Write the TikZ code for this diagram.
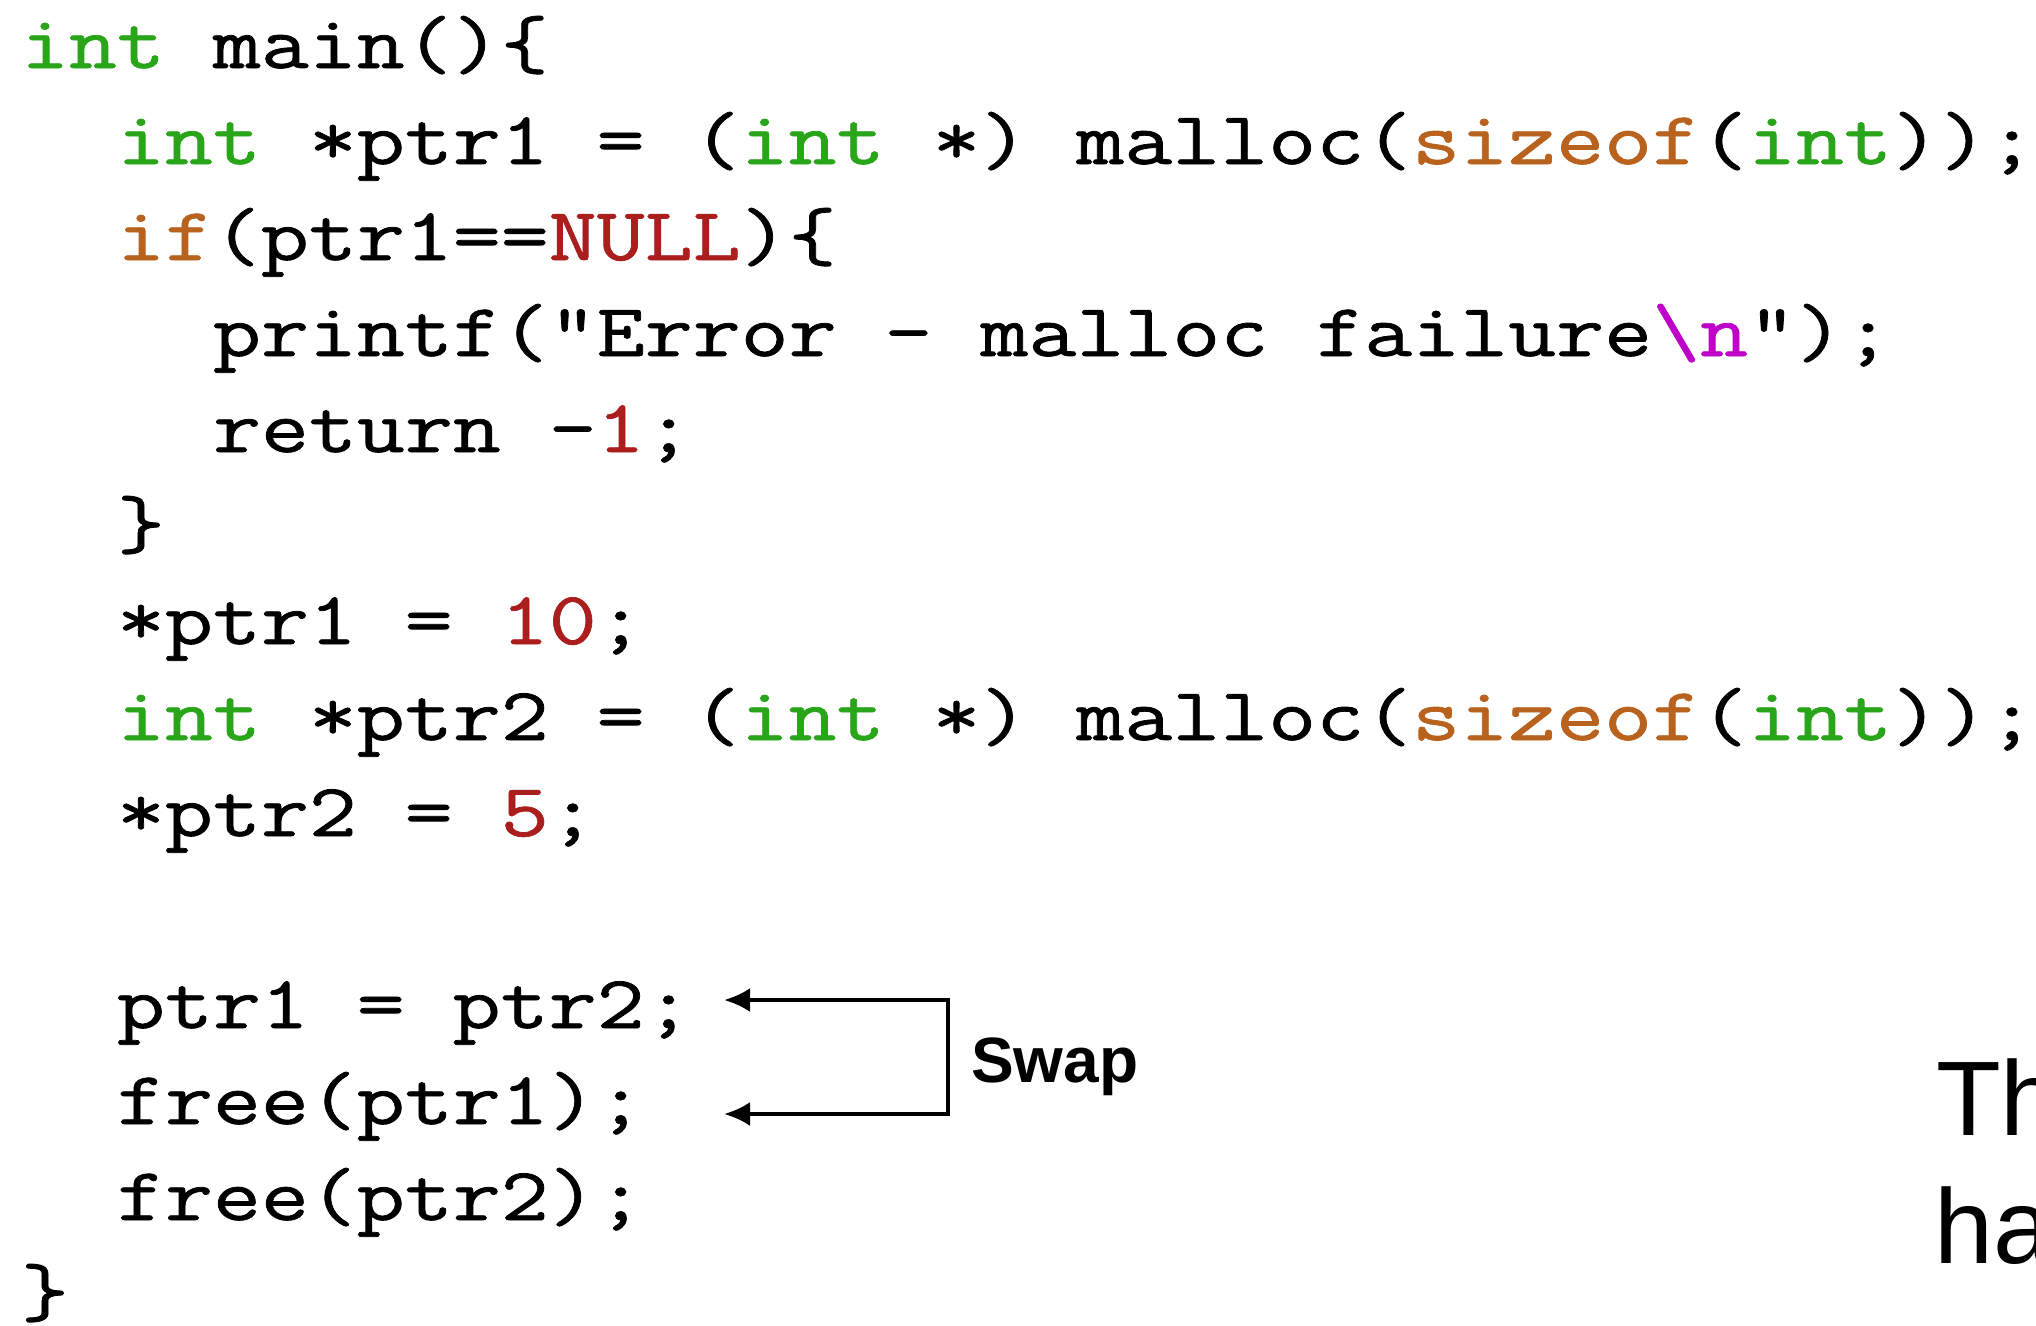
\documentclass[tikz,border=0pt]{standalone}
\usepackage{fontspec}
\setmainfont{Liberation Sans}
\setsansfont{Liberation Sans}
\setmonofont{Latin Modern Mono}[FakeStretch=1.242, FakeBold=1.0]
\usetikzlibrary{arrows.meta}
\definecolor{kwgreen}{RGB}{40,165,25}
\definecolor{kwbrown}{RGB}{185,98,30}
\definecolor{numred}{RGB}{170,30,30}
\definecolor{escmag}{RGB}{190,0,200}
\newcommand{\kgr}[1]{\textcolor{kwgreen}{#1}}
\newcommand{\kbr}[1]{\textcolor{kwbrown}{#1}}
\newcommand{\nrd}[1]{\textcolor{numred}{#1}}
\newcommand{\emg}[1]{\textcolor{escmag}{#1}}
\tikzset{
  code/.style={anchor=base west, inner sep=0pt, outer sep=0pt,
    font=\ttfamily\fontsize{75}{90}\selectfont},
  swaplabel/.style={anchor=base west, inner sep=0pt,
    font=\sffamily\bfseries\fontsize{64}{76}\selectfont},
  bigtext/.style={anchor=base west, inner sep=0pt,
    font=\sffamily\fontsize{106}{128}\selectfont},
  swapline/.style={line width=4pt, line join=miter,
    {Latex[length=26pt,width=24pt]}-{Latex[length=26pt,width=24pt]}}
}
\begin{document}
\begin{tikzpicture}[x=1pt,y=-1pt]
\useasboundingbox (0,0) rectangle (2036,1325);
\clip (0,0) rectangle (2036,1325);
\fill[white] (0,0) rectangle (2036,1325);
% code lines
\node[code] (l1) at (21,68) {\kgr{int} main()\{};
\node[code] (l2) at (117,164) {\kgr{int} *ptr1 = (\kgr{int} *) malloc(\kbr{sizeof}(\kgr{int}));};
\node[code] (l3) at (117,260) {\kbr{if}(ptr1==\nrd{NULL})\{};
\node[code] (l4) at (213,356) {printf("Error - malloc failure\emg{\textbackslash n}");};
\node[code] (l5) at (213,452) {return -\nrd{1};};
\node[code] (l6) at (117,548) {\}};
\node[code] (l7) at (117,644) {*ptr1 = \nrd{10};};
\node[code] (l8) at (117,740) {\kgr{int} *ptr2 = (\kgr{int} *) malloc(\kbr{sizeof}(\kgr{int}));};
\node[code] (l9) at (117,836) {*ptr2 = \nrd{5};};
\node[code] (l11) at (117,1028) {ptr1 = ptr2;};
\node[code] (l12) at (117,1124) {free(ptr1);};
\node[code] (l13) at (117,1220) {free(ptr2);};
\node[code] (l14) at (21,1316) {\}};
% swap bracket
\coordinate (t1) at (724,1000);
\coordinate (r1) at (948,1000);
\coordinate (r2) at (948,1114);
\coordinate (t2) at (724,1114);
\draw[swapline] (t1) -- (r1) -- (r2) -- (t2);
\node[swaplabel] (swap) at (971,1082) {Swap};
% cut-off text at right
\node[bigtext] (th) at (1936,1135) {Th};
\node[bigtext] (ha) at (1934,1263) {ha};
\end{tikzpicture}
\end{document}
